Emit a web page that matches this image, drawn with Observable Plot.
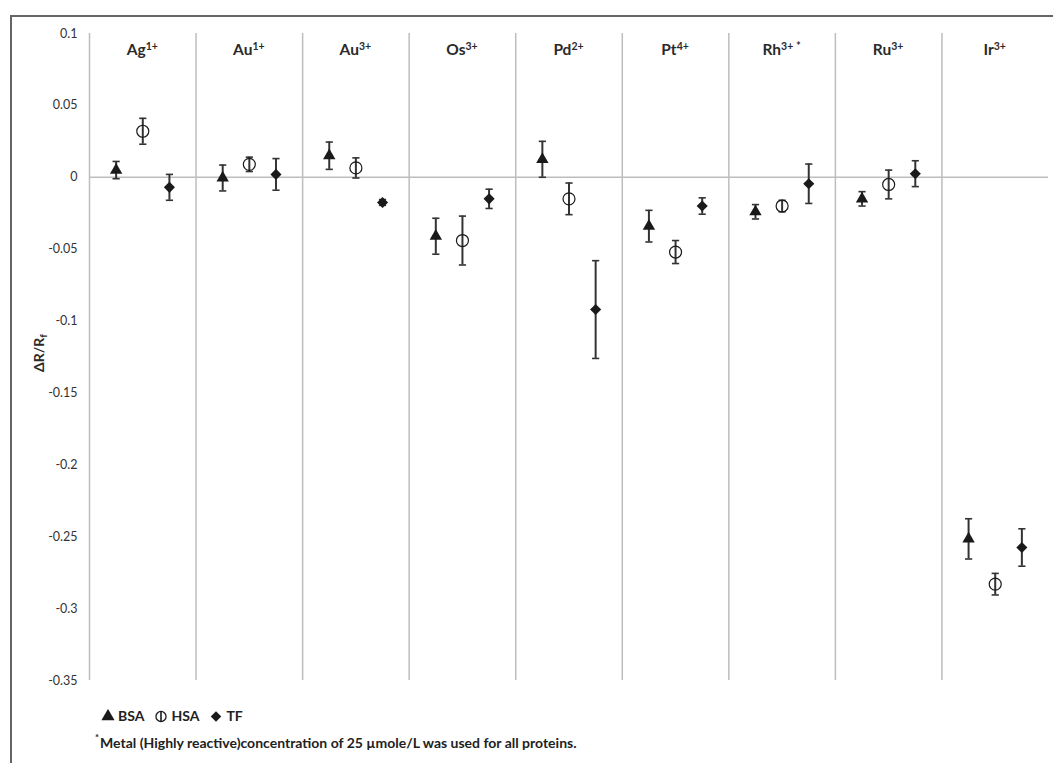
<!DOCTYPE html>
<html>
<head>
<meta charset="utf-8">
<script src="https://cdn.jsdelivr.net/npm/d3@7"></script>
<script src="https://cdn.jsdelivr.net/npm/@observablehq/plot@0.6"></script>
<style>
  html, body { margin: 0; padding: 0; background: #fff; }
  #wrap { position: relative; width: 1053px; height: 763px; overflow: hidden; font-family: Lato, "Open Sans", sans-serif; }
  #frame { position: absolute; left: 10px; top: 15px; width: 1200px; height: 900px; border-left: 2px solid #666; border-top: 2px solid #666; pointer-events: none; }
  #chart { position: absolute; left: 0; top: 0; }
  #legend { position: absolute; left: 101px; top: 707px; display: flex; align-items: center; font-weight: 700; font-size: 14px; color: #222; }
  #legend .item { display: flex; align-items: center; margin-right: 10px; }
  #legend svg { margin-right: 3px; }
  #note { position: absolute; left: 95px; top: 733px; font-weight: 700; font-size: 14px; color: #222; white-space: nowrap; }
  #note sup { font-size: 9.5px; position: relative; top: -1px; margin-right: 1px; }
</style>
</head>
<body>
<div id="wrap">
  <div id="chart"></div>
  <div id="frame"></div>
  <div id="legend"></div>
  <div id="note"><sup>*</sup>Metal (Highly reactive)concentration of 25 µmole/L was used for all proteins.</div>
</div>
<script>
// ---- data ----
const metals  = ["Ag", "Au", "Au", "Os", "Pd", "Pt", "Rh", "Ru", "Ir"];
const charges = ["1+", "1+", "3+", "3+", "2+", "4+", "3+", "3+", "3+"];
const marks   = ["", "", "", "", "", "", "*", "", ""];

const bsaMean = [0.005, -0.0005, 0.015, -0.041, 0.0125, -0.034, -0.024, -0.015, -0.2515];
const bsaErr  = [0.006, 0.009, 0.0095, 0.0125, 0.0125, 0.011, 0.005, 0.005, 0.014];
const hsaMean = [0.032, 0.009, 0.0065, -0.044, -0.015, -0.052, -0.020, -0.005, -0.283];
const hsaErr  = [0.009, 0.005, 0.007, 0.017, 0.011, 0.008, 0.004, 0.010, 0.0075];
const tfMean  = [-0.007, 0.002, -0.0175, -0.015, -0.092, -0.020, -0.0045, 0.0025, -0.2575];
const tfErr   = [0.009, 0.011, 0.002, 0.0067, 0.034, 0.0057, 0.0137, 0.009, 0.013];

const seriesNames = ["BSA", "HSA", "TF"];
const yTicks = [0.1, 0.05, 0, -0.05, -0.1, -0.15, -0.2, -0.25, -0.3, -0.35];

// ---- build table ----
const seriesData = [
  {name: "BSA", mean: bsaMean, err: bsaErr, offset: 0.25},
  {name: "HSA", mean: hsaMean, err: hsaErr, offset: 0.5},
  {name: "TF",  mean: tfMean,  err: tfErr,  offset: 0.75}
];
const rows = seriesData.flatMap(s => metals.map((m, i) => ({
  series: s.name, x: i + s.offset, y: s.mean[i], lo: s.mean[i] - s.err[i], hi: s.mean[i] + s.err[i]
})));

const cap = { draw(ctx, size) { const w = Math.sqrt(size / Math.PI); ctx.moveTo(-w, 0); ctx.lineTo(w, 0); } };
const ink = "#1a1a1a";

const plot = Plot.plot({
  width: 1053, height: 690,
  marginLeft: 89, marginRight: 5, marginTop: 33, marginBottom: 10,
  style: { background: "transparent", fontFamily: "Lato, 'Open Sans', sans-serif", fontSize: "12.5px", color: "#333" },
  x: { domain: [0, 9], axis: null },
  y: { domain: [-0.35, 0.1], ticks: yTicks, tickFormat: d => String(d), tickSize: 0, tickPadding: 12, label: null },
  marks: [
    Plot.ruleX(d3.range(9), { stroke: "#bdbdbd", strokeWidth: 1.5 }),
    Plot.ruleY([0], { stroke: "#bdbdbd", strokeWidth: 1.5 }),
    Plot.ruleX(rows, { x: "x", y1: "lo", y2: "hi", stroke: "#333", strokeWidth: 2 }),
    Plot.dot(rows, { x: "x", y: "hi", symbol: cap, r: 3.6, fill: "none", stroke: "#333", strokeWidth: 1.6 }),
    Plot.dot(rows, { x: "x", y: "lo", symbol: cap, r: 3.6, fill: "none", stroke: "#333", strokeWidth: 1.6 }),
    Plot.dot(rows.filter(d => d.series === "BSA"), { x: "x", y: "y", symbol: "triangle", r: 4.6, fill: ink, stroke: "none" }),
    Plot.dot(rows.filter(d => d.series === "HSA"), { x: "x", y: "y", symbol: "circle", r: 6, fill: "none", stroke: ink, strokeWidth: 1.2 }),
    Plot.dot(rows.filter(d => d.series === "TF"), { x: "x", y: "y", symbol: "diamond2", r: 5, fill: ink, stroke: "none" })
  ]
});
document.getElementById("chart").appendChild(plot);

// ---- category headings ----
const svg = d3.select(plot);
const xs = plot.scale("x");
metals.forEach((m, i) => {
  const t = svg.append("text")
    .attr("x", xs.apply(i + 0.5)).attr("y", 55)
    .attr("text-anchor", "middle")
    .attr("font-family", "Lato, 'Open Sans', sans-serif")
    .attr("font-weight", 700).attr("font-size", 15.5).attr("fill", "#2a2a2a");
  t.append("tspan").text(m);
  t.append("tspan").attr("dy", -5).attr("font-size", 10.5).text(charges[i]);
  if (marks[i]) t.append("tspan").attr("dx", 3).attr("font-size", 10.5).text(marks[i]);
});

// ---- y label ----
const yl = svg.append("text")
  .attr("transform", "translate(44,353) rotate(-90)")
  .attr("text-anchor", "middle")
  .attr("font-family", "Lato, 'Open Sans', sans-serif")
  .attr("font-weight", 700).attr("font-size", 14).attr("fill", "#2a2a2a");
yl.append("tspan").text("ΔR/R");
yl.append("tspan").attr("dy", 3).attr("font-size", 10).text("f");

// ---- legend ----
const legendSymbols = { BSA: d3.symbolTriangle, HSA: d3.symbolCircle, TF: d3.symbolDiamond2 };
const legendSizes = { BSA: 75, HSA: 80, TF: 70 };
const leg = d3.select("#legend");
seriesNames.forEach(n => {
  const item = leg.append("div").attr("class", "item");
  const s = item.append("svg").attr("width", 14).attr("height", 14);
  const g = s.append("g").attr("transform", "translate(7,7.5)");
  if (n === "HSA") {
    g.append("path").attr("d", d3.symbol(legendSymbols[n], legendSizes[n])()).attr("fill", "none").attr("stroke", ink).attr("stroke-width", 1.3);
    g.append("line").attr("x1", 0).attr("x2", 0).attr("y1", -5.5).attr("y2", 5.5).attr("stroke", ink).attr("stroke-width", 1.6);
  } else {
    g.append("path").attr("d", d3.symbol(legendSymbols[n], legendSizes[n])()).attr("fill", ink);
  }
  item.append("span").text(n);
});
</script>
</body>
</html>
